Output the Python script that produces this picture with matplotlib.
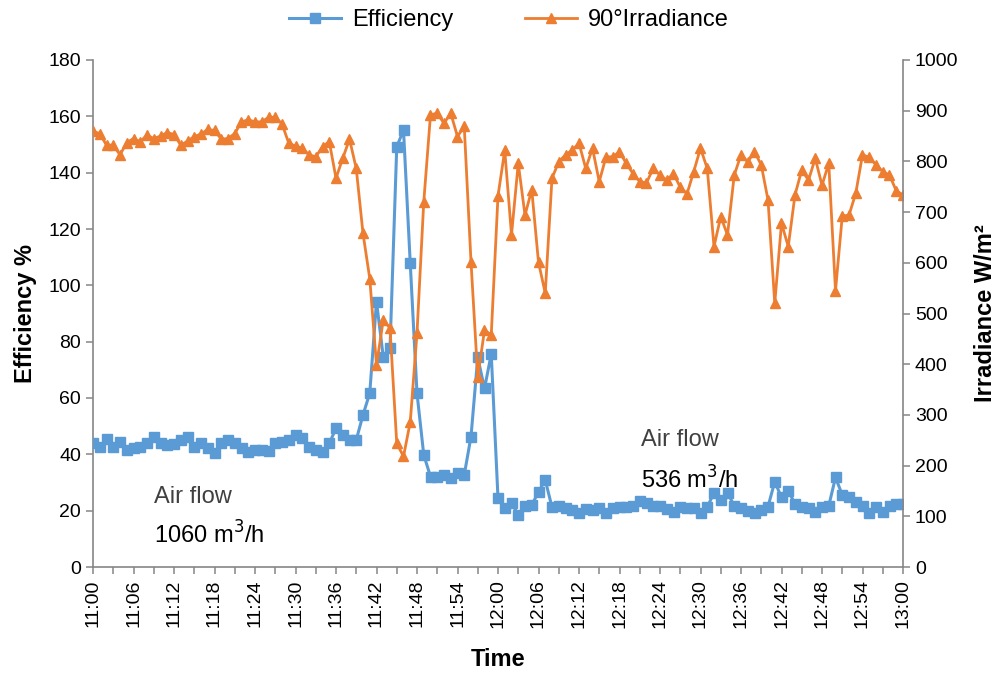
import numpy as np
import matplotlib.pyplot as plt

# ── Data (one reading per minute, 11:00 -> 13:00) ─────────────────────────────
efficiency = [
    43.9, 42.7, 45.3, 42.7, 44.5, 41.5, 42.1, 42.7, 43.9, 46.0,
    43.9, 43.3, 43.7, 45.1, 46.0, 42.7, 43.9, 42.1, 40.4, 44.1,
    45.1, 43.9, 42.1, 40.9, 41.5, 41.5, 41.3, 43.9, 44.5, 45.0,
    47.0, 45.7, 42.7, 41.5, 40.9, 43.9, 49.2, 46.9, 45.1, 45.1,
    54.0, 61.7, 94.2, 74.7, 77.6, 149.2, 155.1, 107.8, 61.7, 39.8,
    32.1, 32.1, 32.7, 31.5, 33.2, 32.7, 46.3, 74.4, 63.4, 75.6,
    24.4, 20.8, 22.8, 18.5, 21.7, 22.0, 26.7, 30.9, 21.2, 21.7,
    20.8, 20.2, 19.1, 20.5, 20.2, 20.8, 19.3, 20.8, 21.2, 21.2,
    21.7, 23.5, 22.8, 21.7, 21.7, 20.5, 19.6, 21.2, 20.8, 20.8,
    19.1, 21.2, 26.4, 23.8, 26.4, 21.7, 20.8, 20.0, 19.1, 20.2,
    21.4, 30.3, 24.7, 27.1, 22.4, 21.4, 20.8, 19.6, 21.2, 21.7,
    31.8, 25.6, 25.0, 23.2, 21.7, 19.3, 21.2, 19.6, 21.7, 22.4,
    22.4,
]

irradiance = [
    859, 855, 832, 832, 813, 837, 845, 839, 852, 845,
    850, 857, 853, 832, 840, 849, 854, 863, 861, 844,
    845, 855, 878, 882, 878, 878, 887, 887, 874, 836,
    830, 826, 813, 809, 829, 839, 767, 806, 844, 786,
    658, 569, 398, 487, 471, 244, 218, 286, 461, 720,
    892, 895, 875, 895, 849, 869, 602, 375, 467, 458,
    732, 822, 655, 796, 694, 744, 601, 540, 767, 799,
    813, 822, 836, 786, 826, 760, 809, 809, 819, 796,
    776, 760, 758, 786, 773, 763, 776, 749, 736, 780,
    826, 786, 632, 691, 655, 773, 813, 799, 819, 793,
    724, 520, 678, 632, 734, 783, 763, 806, 753, 796,
    545, 692, 694, 737, 813, 808, 793, 780, 773, 742,
    734,
]

minutes = np.arange(len(efficiency))  # minutes after 11:00

# ── Style ──────────────────────────────────────────────────────────────────────
plt.rcParams.update({
    "font.family": ["Liberation Sans", "DejaVu Sans"],
    "font.size": 12,
})
blue = "#5b9bd5"
orange = "#ed7d31"
axis_gray = "#868686"

fig = plt.figure(figsize=(10.02, 6.73), dpi=100)
ax = fig.add_axes([93 / 1002, 1 - 567 / 673, 810 / 1002, 507 / 673])
ax2 = ax.twinx()

l1, = ax.plot(minutes, efficiency, color=blue, lw=2.2, marker="s",
              markersize=6.5, label="Efficiency", zorder=3)
l2, = ax2.plot(minutes, irradiance, color=orange, lw=2.0, marker="^",
               markersize=7, label="90°Irradiance", zorder=2)

ax.set_xlim(0, 120)
ax.set_ylim(0, 180)
ax2.set_ylim(0, 1000)
ax.set_yticks(np.arange(0, 181, 20))
ax2.set_yticks(np.arange(0, 1001, 100))

major = np.arange(0, 121, 6)
ax.set_xticks(major)
ax.set_xticklabels([f"{11 + m // 60}:{m % 60:02d}" for m in major],
                   rotation=90, fontsize=14)
ax.set_xticks(np.arange(0, 121, 3), minor=True)

for a in (ax, ax2):
    a.spines["top"].set_visible(False)
    for s in ("left", "right", "bottom"):
        a.spines[s].set_color(axis_gray)
        a.spines[s].set_linewidth(1.2)
    a.tick_params(which="both", color=axis_gray, length=5, width=1.1,
                  direction="out", labelsize=14)
ax.tick_params(axis="x", pad=4)
ax.spines["right"].set_visible(False)
ax2.spines["left"].set_visible(False)
ax2.spines["bottom"].set_visible(False)

ax.set_ylabel("Efficiency %", fontsize=17, fontweight="bold", labelpad=8)
ax2.set_ylabel("Irradiance W/m²", fontsize=17, fontweight="bold", labelpad=11)
ax.set_xlabel("Time", fontsize=17, fontweight="bold", labelpad=14)

# ── Annotations ───────────────────────────────────────────────────────────────
ax.text(9.0, 22.8, "Air flow", fontsize=17, color="#404040")
ax.text(9.0, 8.3, "1060 m$^3$/h", fontsize=17, color="black")
ax.text(81.2, 42.8, "Air flow", fontsize=17, color="#404040")
ax.text(81.2, 28.0, "536 m$^3$/h", fontsize=17, color="black")

fig.legend(handles=[l1, l2], loc="center", bbox_to_anchor=(0.508, 0.97),
           ncol=2, frameon=False, prop={"size": 17},
           handlelength=2.2, columnspacing=3.0, handletextpad=0.5)

plt.savefig("out.png", dpi=100)
